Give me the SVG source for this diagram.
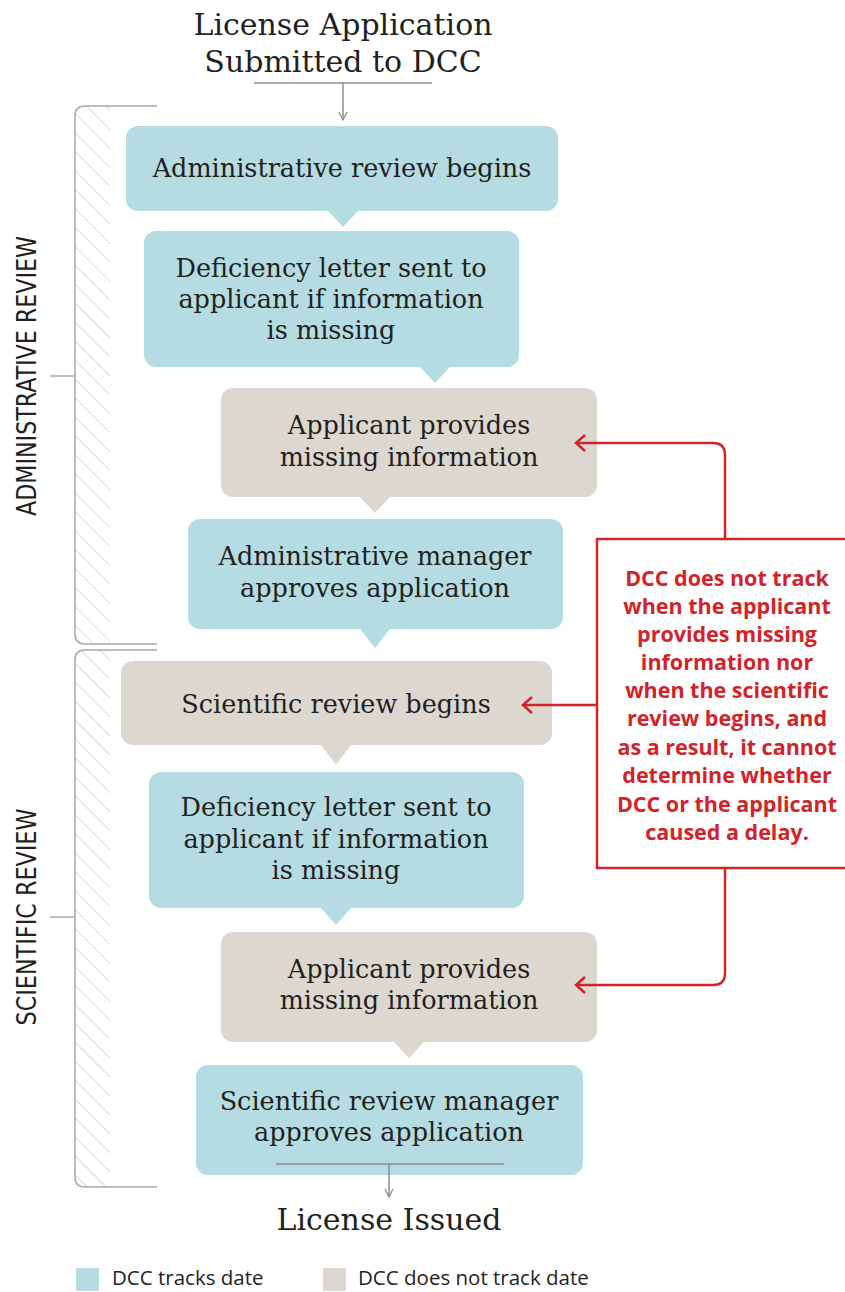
<svg xmlns="http://www.w3.org/2000/svg" width="845" height="1292" viewBox="0 0 845 1292">
  <defs>
    <pattern id="hatch" width="13.4" height="13.4" patternUnits="userSpaceOnUse" patternTransform="rotate(45)">
      <line x1="0" y1="0" x2="13.4" y2="0" stroke="#c4c4c4" stroke-width="1.2"/>
    </pattern>
    <marker id="grayArrow" viewBox="0 0 10 10" refX="9" refY="5" markerWidth="10" markerHeight="10" markerUnits="userSpaceOnUse" orient="auto">
      <path d="M1,1 L9,5 L1,9" fill="none" stroke="#8c8c8c" stroke-width="1.2"/>
    </marker>
    <style>
      .blue { fill: #b5dce2; }
      .beige { fill: #dcd8d0; }
      .box-text { font-family: "DejaVu Serif", "Liberation Serif", serif; font-size: 25.5px; fill: #231f20; text-anchor: middle; }
      .title { font-family: "DejaVu Serif", "Liberation Serif", serif; font-size: 30px; fill: #231f20; text-anchor: middle; }
      .side { font-family: "DejaVu Sans Condensed", "DejaVu Sans", sans-serif; font-size: 26px; fill: #231f20; text-anchor: middle; }
      .note { font-family: "Open Sans", "Liberation Sans", sans-serif; font-weight: bold; font-size: 21.5px; fill: #d2232a; text-anchor: middle; }
      .legend { font-family: "Open Sans", "Liberation Sans", sans-serif; font-size: 20.5px; fill: #231f20; }
      .bracket { fill: none; stroke: #a8a8a8; stroke-width: 1.5; }
      .flow { fill: none; stroke: #8c8c8c; stroke-width: 1.5; }
      .red { fill: none; stroke: #d2232a; stroke-width: 2.5; }
    </style>
  </defs>

  <!-- Start and end titles -->
  <g id="title-start">
    <text class="title" x="343" y="35">License Application</text>
    <text class="title" x="343" y="72">Submitted to DCC</text>
  </g>
  <g id="title-end">
    <text class="title" x="389" y="1230">License Issued</text>
  </g>

  <!-- Phase brackets -->
  <g id="bracket-admin">
    <path d="M75,116 Q75,106 85,106 H110 V644 H85 Q75,644 75,634 Z" fill="url(#hatch)"/>
    <path class="bracket" d="M157,106 H85 Q75,106 75,116 V634 Q75,644 85,644 H157"/>
    <line class="bracket" x1="50" y1="376" x2="75" y2="376"/>
    <text class="side" transform="translate(36,376) rotate(-90)" textLength="280" lengthAdjust="spacingAndGlyphs">ADMINISTRATIVE REVIEW</text>
  </g>
  <g id="bracket-scientific">
    <path d="M75,660 Q75,650 85,650 H110 V1187 H85 Q75,1187 75,1177 Z" fill="url(#hatch)"/>
    <path class="bracket" d="M157,650 H85 Q75,650 75,660 V1177 Q75,1187 85,1187 H157"/>
    <line class="bracket" x1="50" y1="917" x2="75" y2="917"/>
    <text class="side" transform="translate(36,917) rotate(-90)" textLength="217" lengthAdjust="spacingAndGlyphs">SCIENTIFIC REVIEW</text>
  </g>

  <!-- Process steps -->
  <g id="step-admin-begins">
    <rect class="blue" x="126" y="126" width="432" height="85" rx="12"/>
    <path class="blue" d="M328,211 L358,211 L343,227 Z"/>
    <text class="box-text" x="342" y="177">Administrative review begins</text>
  </g>
  <g id="step-admin-deficiency">
    <rect class="blue" x="144" y="231" width="375" height="136" rx="12"/>
    <path class="blue" d="M420,367 L450,367 L435,383 Z"/>
    <text class="box-text" x="331" y="277">Deficiency letter sent to</text>
    <text class="box-text" x="331" y="308">applicant if information</text>
    <text class="box-text" x="331" y="339">is missing</text>
  </g>
  <g id="step-admin-applicant">
    <rect class="beige" x="221" y="388" width="376" height="109" rx="12"/>
    <path class="beige" d="M360,497 L390,497 L375,513 Z"/>
    <text class="box-text" x="409" y="434">Applicant provides</text>
    <text class="box-text" x="409" y="466">missing information</text>
  </g>
  <g id="step-admin-approves">
    <rect class="blue" x="188" y="519" width="375" height="110" rx="12"/>
    <path class="blue" d="M360,629 L390,629 L375,648 Z"/>
    <text class="box-text" x="375" y="565">Administrative manager</text>
    <text class="box-text" x="375" y="597">approves application</text>
  </g>
  <g id="step-sci-begins">
    <rect class="beige" x="121" y="661" width="431" height="84" rx="12"/>
    <path class="beige" d="M321,745 L351,745 L336,765 Z"/>
    <text class="box-text" x="336" y="713">Scientific review begins</text>
  </g>
  <g id="step-sci-deficiency">
    <rect class="blue" x="149" y="772" width="375" height="136" rx="12"/>
    <path class="blue" d="M321,908 L351,908 L336,925 Z"/>
    <text class="box-text" x="336" y="816">Deficiency letter sent to</text>
    <text class="box-text" x="336" y="848">applicant if information</text>
    <text class="box-text" x="336" y="879">is missing</text>
  </g>
  <g id="step-sci-applicant">
    <rect class="beige" x="221" y="932" width="376" height="110" rx="12"/>
    <path class="beige" d="M394,1042 L424,1042 L409,1058 Z"/>
    <text class="box-text" x="409" y="978">Applicant provides</text>
    <text class="box-text" x="409" y="1009">missing information</text>
  </g>
  <g id="step-sci-approves">
    <rect class="blue" x="196" y="1065" width="387" height="110" rx="12"/>
    <text class="box-text" x="389" y="1110">Scientific review manager</text>
    <text class="box-text" x="389" y="1141">approves application</text>
  </g>

  <!-- Callout note -->
  <g id="note">
    <rect x="597" y="539" width="258" height="329" fill="#ffffff" stroke="#d2232a" stroke-width="2.5"/>
    <text class="note" x="727" y="586">DCC does not track</text>
    <text class="note" x="727" y="614">when the applicant</text>
    <text class="note" x="727" y="642">provides missing</text>
    <text class="note" x="727" y="670">information nor</text>
    <text class="note" x="727" y="698">when the scientific</text>
    <text class="note" x="727" y="726">review begins, and</text>
    <text class="note" x="727" y="755">as a result, it cannot</text>
    <text class="note" x="727" y="783">determine whether</text>
    <text class="note" x="727" y="812">DCC or the applicant</text>
    <text class="note" x="727" y="840">caused a delay.</text>
  </g>

  <!-- Connectors -->
  <g id="connectors">
    <line class="flow" x1="254" y1="83" x2="432" y2="83"/>
    <line class="flow" x1="343" y1="83" x2="343" y2="120" marker-end="url(#grayArrow)"/>
    <line class="flow" x1="276" y1="1164" x2="504" y2="1164"/>
    <line class="flow" x1="389" y1="1164" x2="389" y2="1197" marker-end="url(#grayArrow)"/>

    <path class="red" d="M725,539 V455 Q725,443 713,443 H576"/>
    <path class="red" d="M585,435 L576,443 L585,451"/>
    <path class="red" d="M597,705 H523"/>
    <path class="red" d="M532,697 L523,705 L532,713"/>
    <path class="red" d="M725,868 V973 Q725,985 713,985 H576"/>
    <path class="red" d="M585,977 L576,985 L585,993"/>
  </g>

  <!-- Legend -->
  <g id="legend">
    <rect class="blue" x="76" y="1268" width="23" height="23"/>
    <text class="legend" x="112" y="1285">DCC tracks date</text>
    <rect class="beige" x="323" y="1268" width="23" height="23"/>
    <text class="legend" x="358" y="1285">DCC does not track date</text>
  </g>
</svg>
